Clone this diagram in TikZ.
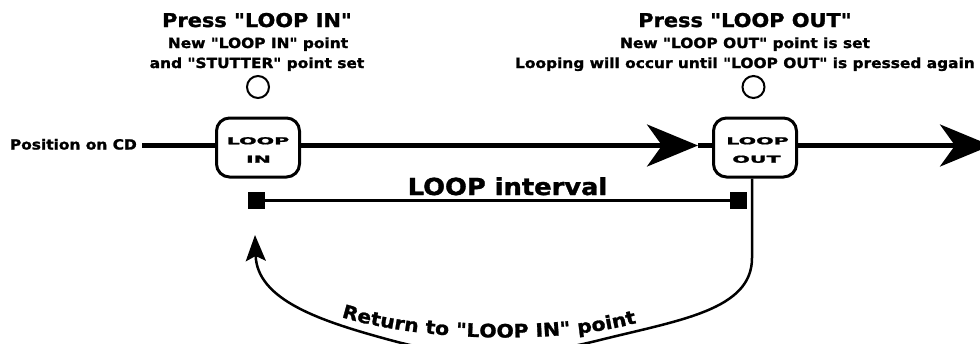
\documentclass[tikz,border=0pt]{standalone}
\usepackage{fontspec}
\setmainfont{DejaVu Sans}[FakeStretch=1.1, Ligatures=TeXOff, BoldFeatures={FakeBold=1.4}]
\usepackage{graphicx}
\usetikzlibrary{arrows.meta,decorations.text}
\newcommand{\hdfont}{\bfseries\fontsize{19}{22}\selectfont}
\newcommand{\sbfont}{\bfseries\fontsize{14}{16}\selectfont}
\newcommand{\retfont}{\bfseries\fontsize{18.5}{20}\selectfont}
\newcommand{\boxlab}[1]{\scalebox{1.95}[1]{\bfseries\fontsize{9.6}{10}\selectfont #1}}
\begin{document}
\begin{tikzpicture}[x=1pt,y=-1pt,
  lab/.style={inner sep=0pt, anchor=base},
  btn/.style={draw, circle, line width=2pt, minimum size=22pt, inner sep=0pt},
  ctrl/.style={draw, line width=3pt, rounded corners=13pt, minimum width=83pt, minimum height=59pt, inner sep=0pt, fill=white},
  mainline/.style={line width=4.5pt},
  thinline/.style={line width=2.5pt},
  sq/.style={fill=black, minimum size=17pt, inner sep=0pt},
  bigtip/.style={-{Stealth[length=51pt,width=42pt,inset=15pt]}},
  smalltip/.style={-{Stealth[length=26pt,width=20pt,inset=5pt]}}]
\useasboundingbox (0,0) rectangle (980,343);
\clip (0,0) rectangle (980,343);
\fill[white] (0,0) rectangle (980,343);

% headers
\node[lab, font=\hdfont] (hIn) at (257,27) {Press "LOOP IN"};
\node[lab, font=\sbfont] (sIn1) at (258,48) {New "LOOP IN" point};
\node[lab, font=\sbfont] (sIn2) at (257,68) {and "STUTTER" point set};
\node[lab, font=\hdfont] (hOut) at (745,27) {Press "LOOP OUT"};
\node[lab, font=\sbfont] (sOut1) at (745,48) {New "LOOP OUT" point is set};
\node[lab, font=\sbfont, anchor=base east] (sOut2) at (975,68) {Looping will occur until "LOOP OUT" is pressed again};

% buttons
\node[btn] (cIn) at (258,87) {};
\node[btn] (cOut) at (753.5,87) {};

% controls
\node[ctrl] (inbox) at (258,147.5) {};
\node[ctrl] (outbox) at (755,147.5) {};
\node[lab] (inL1) at (258,144.3) {\boxlab{LOOP}};
\node[lab] (inL2) at (258.5,162.7) {\boxlab{IN}};
\node[lab] (outL1) at (757.5,144.3) {\boxlab{LOOP}};
\node[lab] (outL2) at (756.5,162.7) {\boxlab{OUT}};

% position line
\node[lab, font=\sbfont, anchor=base east] (pos) at (137,149.5) {Position on CD};
\coordinate (start) at (142,145.5);
\coordinate (tip1) at (698,145.5);
\coordinate (tip2) at (991,145.5);
\draw[mainline] (start) -- (inbox.west |- start);
\draw[mainline, bigtip] (inbox.east |- start) -- (tip1);
\draw[mainline] (tip1) -- (outbox.west |- start);
\draw[mainline, bigtip] (outbox.east |- start) -- (tip2);

% loop interval
\node[sq] (sqL) at (256.5,200.5) {};
\node[sq] (sqR) at (738.7,200.5) {};
\draw[thinline] (sqL) -- (sqR);
\node[lab, font=\bfseries\fontsize{23.4}{26}\selectfont] (intv) at (507.5,195) {LOOP interval};

% return path
\coordinate (inTip) at (255,235);
\draw[thinline, smalltip] ([xshift=-3pt]outbox.south) -- (752,258)
  .. controls (752,310) and (680,320) .. (600,340)
  .. controls (520,360) and (460,359) .. (390,340)
  .. controls (320,321) and (257,300) .. (inTip);
\path[decorate, decoration={text along path, text align=center,
  text={|\retfont|Return to "LOOP IN" point}}]
  (338,316) .. controls (420,342) and (560,345) .. (640,322);
\end{tikzpicture}
\end{document}
